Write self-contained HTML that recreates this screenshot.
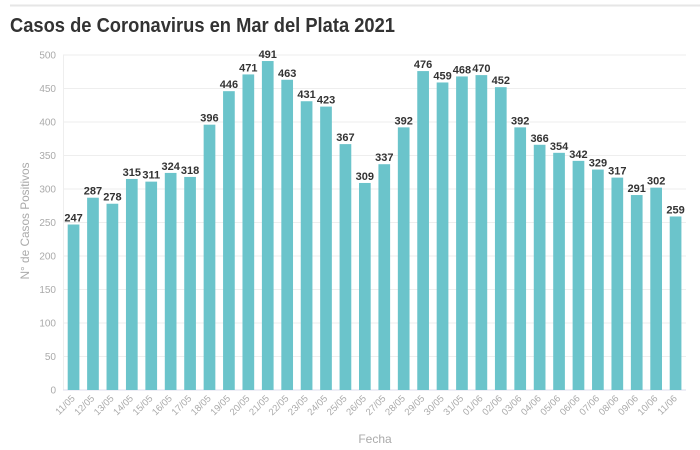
<!DOCTYPE html>
<html><head><meta charset="utf-8"><style>
html,body{margin:0;padding:0;background:#fff;}
svg{display:block;font-family:"Liberation Sans",sans-serif;}
.v{font-size:11px;font-weight:bold;fill:#333;text-anchor:middle}
.t{font-size:9.5px;fill:#aaa;text-anchor:end}
.y{font-size:10px;fill:#aaa;text-anchor:end}
</style></head><body>
<svg width="700" height="450" xmlns="http://www.w3.org/2000/svg">
<line x1="10" y1="5.5" x2="700" y2="5.5" stroke="#e6e6e6" stroke-width="2"/>
<text x="10" y="32" font-size="20" font-weight="bold" fill="#333" textLength="385" lengthAdjust="spacingAndGlyphs">Casos de Coronavirus en Mar del Plata 2021</text>
<g stroke="#eeeeee">
<line x1="63" x2="686" y1="356.5" y2="356.5"/><line x1="63" x2="686" y1="323" y2="323"/><line x1="63" x2="686" y1="289.5" y2="289.5"/><line x1="63" x2="686" y1="256" y2="256"/><line x1="63" x2="686" y1="222.5" y2="222.5"/><line x1="63" x2="686" y1="189" y2="189"/><line x1="63" x2="686" y1="155.5" y2="155.5"/><line x1="63" x2="686" y1="122" y2="122"/><line x1="63" x2="686" y1="88.5" y2="88.5"/><line x1="63" x2="686" y1="55" y2="55"/>
<line x1="63.5" x2="63.5" y1="55" y2="390"/>
</g>
<line x1="63" x2="686" y1="390" y2="390" stroke="#dde"/>
<g class="y">
<text class="y" x="56" y="393.5">0</text><text class="y" x="56" y="360">50</text><text class="y" x="56" y="326.5">100</text><text class="y" x="56" y="293">150</text><text class="y" x="56" y="259.5">200</text><text class="y" x="56" y="226">250</text><text class="y" x="56" y="192.5">300</text><text class="y" x="56" y="159">350</text><text class="y" x="56" y="125.5">400</text><text class="y" x="56" y="92">450</text><text class="y" x="56" y="58.5">500</text>
</g>
<g fill="#6bc4cb">
<rect x="67.70" y="224.51" width="11.7" height="165.49"/>
<rect x="87.12" y="197.71" width="11.7" height="192.29"/>
<rect x="106.54" y="203.74" width="11.7" height="186.26"/>
<rect x="125.96" y="178.95" width="11.7" height="211.05"/>
<rect x="145.38" y="181.63" width="11.7" height="208.37"/>
<rect x="164.80" y="172.92" width="11.7" height="217.08"/>
<rect x="184.22" y="176.94" width="11.7" height="213.06"/>
<rect x="203.64" y="124.68" width="11.7" height="265.32"/>
<rect x="223.06" y="91.18" width="11.7" height="298.82"/>
<rect x="242.48" y="74.43" width="11.7" height="315.57"/>
<rect x="261.90" y="61.03" width="11.7" height="328.97"/>
<rect x="281.32" y="79.79" width="11.7" height="310.21"/>
<rect x="300.74" y="101.23" width="11.7" height="288.77"/>
<rect x="320.16" y="106.59" width="11.7" height="283.41"/>
<rect x="339.58" y="144.11" width="11.7" height="245.89"/>
<rect x="359.00" y="182.97" width="11.7" height="207.03"/>
<rect x="378.42" y="164.21" width="11.7" height="225.79"/>
<rect x="397.84" y="127.36" width="11.7" height="262.64"/>
<rect x="417.26" y="71.08" width="11.7" height="318.92"/>
<rect x="436.68" y="82.47" width="11.7" height="307.53"/>
<rect x="456.10" y="76.44" width="11.7" height="313.56"/>
<rect x="475.52" y="75.10" width="11.7" height="314.90"/>
<rect x="494.94" y="87.16" width="11.7" height="302.84"/>
<rect x="514.36" y="127.36" width="11.7" height="262.64"/>
<rect x="533.78" y="144.78" width="11.7" height="245.22"/>
<rect x="553.20" y="152.82" width="11.7" height="237.18"/>
<rect x="572.62" y="160.86" width="11.7" height="229.14"/>
<rect x="592.04" y="169.57" width="11.7" height="220.43"/>
<rect x="611.46" y="177.61" width="11.7" height="212.39"/>
<rect x="630.88" y="195.03" width="11.7" height="194.97"/>
<rect x="650.30" y="187.66" width="11.7" height="202.34"/>
<rect x="669.72" y="216.47" width="11.7" height="173.53"/>
</g>
<g>
<text class="v" x="73.55" y="221.5">247</text>
<text class="v" x="92.97" y="194.7">287</text>
<text class="v" x="112.39" y="200.7">278</text>
<text class="v" x="131.81" y="176">315</text>
<text class="v" x="151.23" y="178.6">311</text>
<text class="v" x="170.65" y="169.9">324</text>
<text class="v" x="190.07" y="173.9">318</text>
<text class="v" x="209.49" y="121.7">396</text>
<text class="v" x="228.91" y="88.2">446</text>
<text class="v" x="248.33" y="71.4">471</text>
<text class="v" x="267.75" y="58">491</text>
<text class="v" x="287.17" y="76.8">463</text>
<text class="v" x="306.59" y="98.2">431</text>
<text class="v" x="326.01" y="103.6">423</text>
<text class="v" x="345.43" y="141.1">367</text>
<text class="v" x="364.85" y="180">309</text>
<text class="v" x="384.27" y="161.2">337</text>
<text class="v" x="403.69" y="124.4">392</text>
<text class="v" x="423.11" y="68.1">476</text>
<text class="v" x="442.53" y="79.5">459</text>
<text class="v" x="461.95" y="73.4">468</text>
<text class="v" x="481.37" y="72.1">470</text>
<text class="v" x="500.79" y="84.2">452</text>
<text class="v" x="520.21" y="124.4">392</text>
<text class="v" x="539.63" y="141.8">366</text>
<text class="v" x="559.05" y="149.8">354</text>
<text class="v" x="578.47" y="157.9">342</text>
<text class="v" x="597.89" y="166.6">329</text>
<text class="v" x="617.31" y="174.6">317</text>
<text class="v" x="636.73" y="192">291</text>
<text class="v" x="656.15" y="184.7">302</text>
<text class="v" x="675.57" y="213.5">259</text>
</g>
<g>
<text class="t" transform="translate(75.5,399) rotate(-45)">11/05</text>
<text class="t" transform="translate(95,399) rotate(-45)">12/05</text>
<text class="t" transform="translate(114.4,399) rotate(-45)">13/05</text>
<text class="t" transform="translate(133.8,399) rotate(-45)">14/05</text>
<text class="t" transform="translate(153.2,399) rotate(-45)">15/05</text>
<text class="t" transform="translate(172.6,399) rotate(-45)">16/05</text>
<text class="t" transform="translate(192.1,399) rotate(-45)">17/05</text>
<text class="t" transform="translate(211.5,399) rotate(-45)">18/05</text>
<text class="t" transform="translate(230.9,399) rotate(-45)">19/05</text>
<text class="t" transform="translate(250.3,399) rotate(-45)">20/05</text>
<text class="t" transform="translate(269.7,399) rotate(-45)">21/05</text>
<text class="t" transform="translate(289.2,399) rotate(-45)">22/05</text>
<text class="t" transform="translate(308.6,399) rotate(-45)">23/05</text>
<text class="t" transform="translate(328,399) rotate(-45)">24/05</text>
<text class="t" transform="translate(347.4,399) rotate(-45)">25/05</text>
<text class="t" transform="translate(366.8,399) rotate(-45)">26/05</text>
<text class="t" transform="translate(386.3,399) rotate(-45)">27/05</text>
<text class="t" transform="translate(405.7,399) rotate(-45)">28/05</text>
<text class="t" transform="translate(425.1,399) rotate(-45)">29/05</text>
<text class="t" transform="translate(444.5,399) rotate(-45)">30/05</text>
<text class="t" transform="translate(464,399) rotate(-45)">31/05</text>
<text class="t" transform="translate(483.4,399) rotate(-45)">01/06</text>
<text class="t" transform="translate(502.8,399) rotate(-45)">02/06</text>
<text class="t" transform="translate(522.2,399) rotate(-45)">03/06</text>
<text class="t" transform="translate(541.6,399) rotate(-45)">04/06</text>
<text class="t" transform="translate(561,399) rotate(-45)">05/06</text>
<text class="t" transform="translate(580.5,399) rotate(-45)">06/06</text>
<text class="t" transform="translate(599.9,399) rotate(-45)">07/06</text>
<text class="t" transform="translate(619.3,399) rotate(-45)">08/06</text>
<text class="t" transform="translate(638.7,399) rotate(-45)">09/06</text>
<text class="t" transform="translate(658.2,399) rotate(-45)">10/06</text>
<text class="t" transform="translate(677.6,399) rotate(-45)">11/06</text>
</g>
<text transform="translate(29,221) rotate(-90)" text-anchor="middle" font-size="12" fill="#aaa" textLength="117" lengthAdjust="spacingAndGlyphs">N° de Casos Positivos</text>
<text x="375" y="443" text-anchor="middle" font-size="12" fill="#aaa">Fecha</text>
</svg>
</body></html>
